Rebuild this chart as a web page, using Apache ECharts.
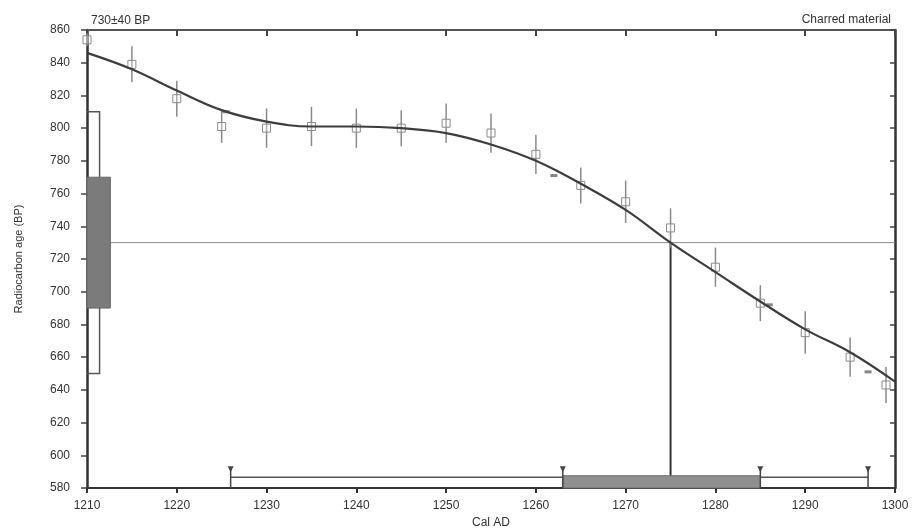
<!DOCTYPE html>
<html>
<head>
<meta charset="utf-8">
<script src="https://cdn.jsdelivr.net/npm/echarts@6/dist/echarts.min.js"></script>
<style>
  html, body { margin: 0; padding: 0; background: #fff; }
  #chart { width: 915px; height: 531px; }
</style>
</head>
<body>
<div id="chart"></div>
<script>
// calibration curve (Cal AD -> BP)
var curveYears = [1210, 1215, 1220, 1225, 1230, 1235, 1240, 1245, 1250, 1255, 1260, 1265, 1270, 1275, 1280, 1285, 1290, 1295, 1300];
var curveBP    = [846, 836, 823, 811, 804, 801, 801, 800, 797, 790, 780, 766, 750, 730, 712, 694, 677, 663, 645];

// measured points with error bars
var pointYears = [1210, 1215, 1220, 1225, 1230, 1235, 1240, 1245, 1250, 1255, 1260, 1265, 1270, 1275, 1280, 1285, 1290, 1295, 1299];
var pointBP    = [854, 839, 818, 801, 800, 801, 800, 800, 803, 797, 784, 765, 755, 739, 715, 693, 675, 660, 643];
var pointErr   = [4, 11, 11, 10, 12, 12, 12, 11, 12, 12, 12, 11, 13, 12, 12, 11, 13, 12, 11];

// small filled marks
var markYears = [1225.5, 1262, 1286, 1297];
var markBP    = [810, 771, 692, 651];

// sample date
var sampleBP = 730;
var sampleSigma1 = [690, 770];
var sampleSigma2 = [650, 810];
var calIntercept = 1275;
var calRange1 = [1263, 1285];
var calRange2 = [1226, 1297];

var xTicks = { min: 1210, max: 1300, interval: 10 };
var yTicks = { min: 580, max: 860, interval: 20 };

var chart = echarts.init(document.getElementById('chart'));

var errorData = pointYears.map(function (y, i) { return [y, pointBP[i], pointErr[i]]; });
var curveData = curveYears.map(function (y, i) { return [y, curveBP[i]]; });
var markData = markYears.map(function (y, i) { return [y, markBP[i]]; });

function renderErrors(params, api) {
  var x = api.value(0), v = api.value(1), e = api.value(2);
  var p = api.coord([x, v]);
  var top = api.coord([x, v + e]);
  var bot = api.coord([x, v - e]);
  return {
    type: 'group',
    children: [
      { type: 'line', shape: { x1: p[0], y1: top[1], x2: p[0], y2: bot[1] },
        style: { stroke: '#8a8a8a', lineWidth: 1.5 } },
      { type: 'rect', shape: { x: p[0] - 4, y: p[1] - 4, width: 8, height: 8 },
        style: { stroke: '#8a8a8a', fill: 'rgba(255,255,255,0.3)', lineWidth: 1 } }
    ]
  };
}

function renderSample(params, api) {
  if (params.dataIndex !== 0) return;
  var x0 = xTicks.min;
  var boxTL = api.coord([x0, sampleSigma1[1]]);
  var boxBR = api.coord([x0 + 2.6, sampleSigma1[0]]);
  var brTop = api.coord([x0 + 1.4, sampleSigma2[1]]);
  var brBot = api.coord([x0 + 1.4, sampleSigma2[0]]);
  var axisX = api.coord([x0, 0])[0];
  var hl0 = api.coord([x0, sampleBP]);
  var hl1 = api.coord([xTicks.max, sampleBP]);
  var vTop = api.coord([calIntercept, sampleBP]);
  var vBot = api.coord([calIntercept, yTicks.min]);

  var r1a = api.coord([calRange1[0], 587.5]);
  var r1b = api.coord([calRange1[1], yTicks.min]);
  var r2a = api.coord([calRange2[0], 586.5]);
  var r2b = api.coord([calRange2[1], 586.5]);
  var base = api.coord([calRange2[0], yTicks.min])[1];
  var tipY = api.coord([calRange2[0], 592])[1];

  var children = [
    // horizontal sample line
    { type: 'line', shape: { x1: hl0[0], y1: hl0[1], x2: hl1[0], y2: hl1[1] },
      style: { stroke: '#8c8c8c', lineWidth: 1 } },
    // 2 sigma bracket
    { type: 'polyline', shape: { points: [[axisX, brTop[1]], [brTop[0], brTop[1]], [brTop[0], boxTL[1]]] },
      style: { stroke: '#555', lineWidth: 1.5, fill: null } },
    { type: 'polyline', shape: { points: [[brTop[0], boxBR[1]], [brBot[0], brBot[1]], [axisX, brBot[1]]] },
      style: { stroke: '#555', lineWidth: 1.5, fill: null } },
    // 1 sigma box
    { type: 'rect', shape: { x: boxTL[0], y: boxTL[1], width: boxBR[0] - boxTL[0], height: boxBR[1] - boxTL[1] },
      style: { fill: '#7b7b7b', stroke: '#666', lineWidth: 1 } },
    // intercept vertical
    { type: 'line', shape: { x1: vTop[0], y1: vTop[1], x2: vBot[0], y2: vBot[1] },
      style: { stroke: '#333', lineWidth: 2 } },
    // 2 sigma calendar range
    { type: 'line', shape: { x1: r2a[0], y1: r2a[1], x2: r2b[0], y2: r2b[1] },
      style: { stroke: '#555', lineWidth: 1.5 } },
    // 1 sigma calendar range
    { type: 'rect', shape: { x: r1a[0], y: r1a[1], width: r1b[0] - r1a[0], height: r1b[1] - r1a[1] },
      style: { fill: '#8f8f8f', stroke: '#6f6f6f', lineWidth: 1 } }
  ];
  [calRange2[0], calRange1[0], calRange1[1], calRange2[1]].forEach(function (yr) {
    var cx = api.coord([yr, yTicks.min])[0];
    children.push({ type: 'line', shape: { x1: cx, y1: tipY, x2: cx, y2: base },
      style: { stroke: '#444', lineWidth: 1.5 } });
    children.push({ type: 'polygon', shape: { points: [[cx - 3, tipY - 2], [cx + 3, tipY - 2], [cx, tipY + 4]] },
      style: { fill: '#444' } });
  });
  return { type: 'group', children: children };
}

chart.setOption({
  animation: false,
  backgroundColor: '#fff',
  textStyle: { fontFamily: 'Liberation Sans, Arial, sans-serif' },
  title: [
    { text: '730±40 BP', left: 86, top: 10, textStyle: { fontSize: 12, fontWeight: 'normal', color: '#333' } },
    { text: 'Charred material', right: 19, top: 9, textStyle: { fontSize: 12, fontWeight: 'normal', color: '#333' } }
  ],
  grid: { left: 87, right: 20, top: 30, bottom: 43, outerBoundsMode: 'none' },
  xAxis: [
    {
      type: 'value', min: xTicks.min, max: xTicks.max, interval: xTicks.interval,
      name: 'Cal AD', nameLocation: 'middle', nameGap: 29,
      nameTextStyle: { fontSize: 12, color: '#333' },
      axisLine: { lineStyle: { color: '#333', width: 2 } },
      axisTick: { inside: false, length: 5, lineStyle: { color: '#333', width: 2 } },
      axisLabel: { fontSize: 12, color: '#333', margin: 12, formatter: function (v) { return String(v); } },
      splitLine: { show: false }
    },
    {
      type: 'value', position: 'top', min: xTicks.min, max: xTicks.max, interval: xTicks.interval,
      axisLine: { show: true, lineStyle: { color: '#555', width: 2 } },
      axisTick: { inside: true, length: 6, lineStyle: { color: '#444', width: 2 } },
      axisLabel: { show: false },
      splitLine: { show: false }
    }
  ],
  yAxis: [
    {
      type: 'value', min: yTicks.min, max: yTicks.max, interval: yTicks.interval,
      name: 'Radiocarbon age (BP)', nameLocation: 'middle', nameGap: 63,
      nameTextStyle: { fontSize: 11, color: '#333' },
      axisLine: { show: true, lineStyle: { color: '#333', width: 2.5 } },
      axisTick: { show: true, inside: false, length: 6, lineStyle: { color: '#444', width: 1.5 } },
      axisLabel: { fontSize: 12, color: '#333', margin: 17 },
      splitLine: { show: false }
    },
    {
      type: 'value', position: 'right', min: yTicks.min, max: yTicks.max, interval: yTicks.interval,
      axisLine: { show: true, lineStyle: { color: '#333', width: 2.5 } },
      axisTick: { show: true, inside: true, length: 5, lineStyle: { color: '#444', width: 1.5 } },
      axisLabel: { show: false },
      splitLine: { show: false }
    }
  ],
  series: [
    {
      type: 'custom', name: 'sample', renderItem: renderSample, data: [[xTicks.min, sampleBP]],
      clip: false, z: 1
    },
    {
      type: 'custom', name: 'points', renderItem: renderErrors, data: errorData, z: 2
    },
    {
      type: 'scatter', name: 'marks', data: markData, symbol: 'rect', symbolSize: [7, 3],
      itemStyle: { color: '#666' }, z: 3
    },
    {
      type: 'line', name: 'curve', data: curveData, smooth: 0.4, showSymbol: false,
      lineStyle: { color: '#3d3d3d', width: 2.2 }, z: 4
    }
  ]
});
</script>
</body>
</html>
